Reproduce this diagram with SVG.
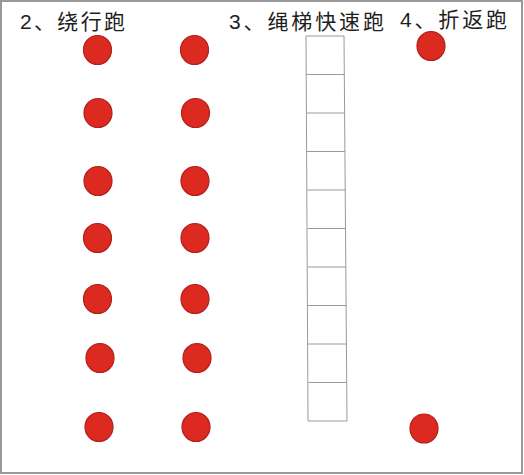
<svg xmlns="http://www.w3.org/2000/svg" width="524" height="475" viewBox="0 0 524 475">
<style>
.t{font-family:"Liberation Sans","Noto Sans CJK SC",sans-serif;font-size:21px;fill:#1e1e1e}
.c{fill:#dc2a20;stroke:#b21f1c;stroke-width:1.2}
.l{fill:none;stroke:#9a9a9a;stroke-width:1}
</style>
<rect x="1" y="1" width="521" height="472" fill="#fff" stroke="#999" stroke-width="2"/>
<g id="labels">
<text class="t" x="20" y="29" textLength="105" lengthAdjust="spacing">2、绕行跑</text>
<text class="t" x="229" y="29" textLength="155" lengthAdjust="spacing">3、绳梯快速跑</text>
<text class="t" x="400" y="27" textLength="107" lengthAdjust="spacing">4、折返跑</text>
</g>
<g id="col1">
<ellipse class="c" cx="97.5" cy="50" rx="14" ry="14.5"/>
<ellipse class="c" cx="98" cy="113" rx="14" ry="14.5"/>
<ellipse class="c" cx="98" cy="181" rx="14" ry="14.5"/>
<ellipse class="c" cx="97.5" cy="238" rx="14" ry="14.5"/>
<ellipse class="c" cx="97.5" cy="299" rx="14" ry="14.5"/>
<ellipse class="c" cx="100" cy="358" rx="14" ry="14.5"/>
<ellipse class="c" cx="99" cy="427" rx="14" ry="14.5"/>
</g>
<g id="col2">
<ellipse class="c" cx="194.5" cy="50" rx="14" ry="14.5"/>
<ellipse class="c" cx="195.5" cy="113" rx="14" ry="14.5"/>
<ellipse class="c" cx="195" cy="181" rx="14" ry="14.5"/>
<ellipse class="c" cx="195" cy="238" rx="14" ry="14.5"/>
<ellipse class="c" cx="195" cy="299" rx="14" ry="14.5"/>
<ellipse class="c" cx="197" cy="358" rx="14" ry="14.5"/>
<ellipse class="c" cx="196" cy="427" rx="14" ry="14.5"/>
</g>
<g id="ladder">
<polygon class="l" points="306,36 344,36 347,421 308,421"/>
<path class="l" d="M306.3,74.5H344.4M306.6,113H344.8M306.9,151.5H345.1M307.2,190H345.5M307.5,228.5H345.8M307.7,267H346.2M308,305.5H346.5M308.2,344H346.8M308.5,382.5H347"/>
</g>
<g id="col4">
<ellipse class="c" cx="431" cy="46" rx="14" ry="14.5"/>
<ellipse class="c" cx="424" cy="428.5" rx="14" ry="14.5"/>
</g>
</svg>
